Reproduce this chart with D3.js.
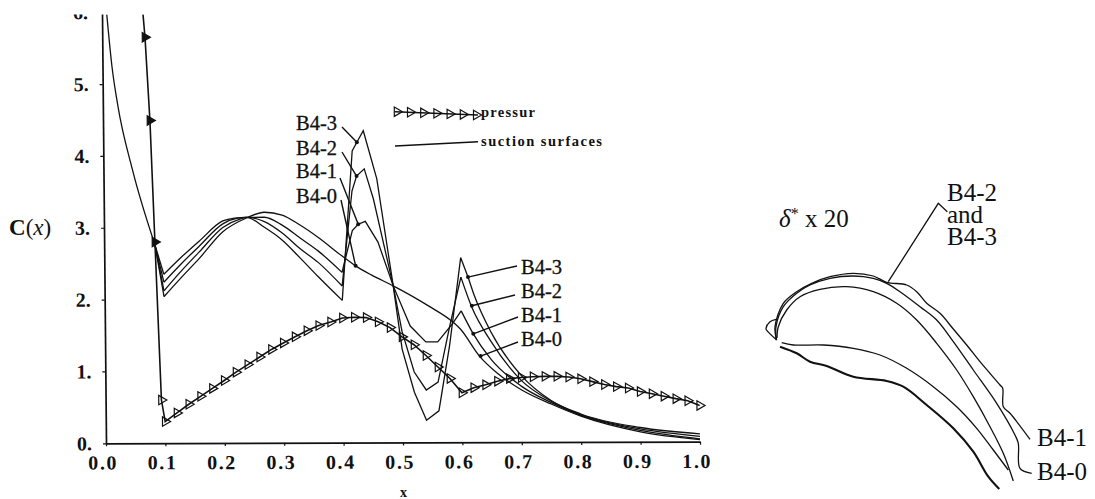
<!DOCTYPE html>
<html>
<head>
<meta charset="utf-8">
<script src="https://cdn.jsdelivr.net/npm/d3@7"></script>
<style>
body { margin: 0; background: #fff; }
svg { display: block; }
text { font-family: "Liberation Serif", serif; fill: #111; }
.label { stroke: #111; stroke-width: 0.3px; }
</style>
</head>
<body>
<svg id="chart" width="1095" height="499"></svg>
<script>
const xTicks = [0, 0.1, 0.2, 0.3, 0.4, 0.5, 0.6, 0.7, 0.8, 0.9, 1.0];
const yTicks = [0, 1, 2, 3, 4, 5, 6];

// leading edge is shared by all the suction curves
const leadEdge = [[0.008, 5.97], [0.016, 5.24], [0.025, 4.71], [0.049, 3.8], [0.0855, 2.76]];

const b40 = [[0.1, 2.04], [0.13, 2.31], [0.16, 2.57], [0.2, 2.94], [0.24, 3.13], [0.27, 3.21], [0.3, 3.17], [0.33, 3.03], [0.36, 2.86], [0.4, 2.6], [0.423, 2.46], [0.45, 2.33], [0.486, 2.18], [0.545, 1.9], [0.585, 1.68], [0.598, 1.58], [0.63, 1.2], [0.66, 0.96], [0.7, 0.73], [0.75, 0.53], [0.8, 0.36], [0.9, 0.14], [1.0, 0.03]];
const b41 = [[0.1, 2.12], [0.13, 2.4], [0.16, 2.66], [0.2, 3.0], [0.23, 3.12], [0.24, 3.14], [0.27, 3.14], [0.3, 3.03], [0.33, 2.85], [0.36, 2.67], [0.4, 2.37], [0.418, 2.95], [0.428, 3.04], [0.44, 3.08], [0.461, 2.79], [0.486, 2.18], [0.514, 1.62], [0.54, 1.4], [0.56, 1.4], [0.585, 1.65], [0.6, 1.83], [0.62, 1.51], [0.65, 1.15], [0.7, 0.78], [0.75, 0.55], [0.8, 0.37], [0.9, 0.16], [1.0, 0.04]];
const b42 = [[0.1, 2.24], [0.13, 2.5], [0.16, 2.74], [0.2, 3.05], [0.225, 3.13], [0.24, 3.14], [0.27, 3.08], [0.3, 2.92], [0.33, 2.7], [0.36, 2.51], [0.4, 2.18], [0.418, 3.5], [0.426, 3.71], [0.439, 3.81], [0.454, 3.39], [0.486, 2.18], [0.5, 1.55], [0.52, 0.98], [0.54, 0.73], [0.56, 0.84], [0.58, 1.6], [0.6, 2.3], [0.618, 1.88], [0.65, 1.4], [0.7, 0.86], [0.75, 0.57], [0.8, 0.38], [0.9, 0.18], [1.0, 0.075]];
const b43 = [[0.1, 2.35], [0.13, 2.59], [0.16, 2.81], [0.2, 3.09], [0.22, 3.13], [0.24, 3.14], [0.27, 3.0], [0.3, 2.82], [0.33, 2.57], [0.36, 2.31], [0.4, 1.98], [0.419, 4.06], [0.427, 4.18], [0.438, 4.34], [0.46, 3.67], [0.486, 2.18], [0.5, 1.3], [0.52, 0.7], [0.54, 0.31], [0.561, 0.44], [0.58, 1.35], [0.6, 2.57], [0.612, 2.3], [0.622, 2.05], [0.65, 1.53], [0.7, 0.93], [0.75, 0.58], [0.8, 0.39], [0.9, 0.2], [1.0, 0.11]];

const pressureLead = [[0.069, 5.97]];
const pressure = [[0.072, 5.65], [0.079, 4.49], [0.0855, 2.8], [0.094, 0.6], [0.1, 0.3], [0.12, 0.42], [0.14, 0.54], [0.16, 0.65], [0.18, 0.76], [0.2, 0.87], [0.22, 0.985], [0.24, 1.09], [0.26, 1.195], [0.28, 1.3], [0.3, 1.39], [0.32, 1.475], [0.34, 1.56], [0.36, 1.63], [0.38, 1.68], [0.4, 1.735], [0.42, 1.745], [0.44, 1.74], [0.46, 1.68], [0.48, 1.6], [0.5, 1.47], [0.52, 1.36], [0.54, 1.21], [0.56, 1.05], [0.58, 0.89], [0.6, 0.69], [0.62, 0.76], [0.64, 0.8], [0.66, 0.85], [0.68, 0.885], [0.7, 0.9], [0.72, 0.91], [0.74, 0.915], [0.76, 0.915], [0.78, 0.905], [0.8, 0.88], [0.82, 0.84], [0.84, 0.8], [0.86, 0.77], [0.88, 0.75], [0.9, 0.7], [0.92, 0.67], [0.94, 0.635], [0.96, 0.6], [0.98, 0.57], [1.0, 0.505]];

const leaderTips = [
  { name: "B4-3", left: [0.427, 4.18], right: [0.612, 2.3] },
  { name: "B4-2", left: [0.426, 3.71], right: [0.618, 1.9] },
  { name: "B4-1", left: [0.428, 3.04], right: [0.62, 1.51] },
  { name: "B4-0", left: [0.423, 2.46], right: [0.632, 1.2] }
];
const leftLabelEnds = [[342, 127], [342, 152], [340, 178], [341, 200]];
const rightLabelEnds = [[517, 266], [515, 295], [518, 317], [518, 342]];
const leftLabelBase = [130, 155, 178, 203];
const rightLabelBase = [274, 298, 322, 346];

// boundary layer sketch on the right
const bladeA = [[776.5, 340], [775, 326.7], [783.3, 303.3], [796.7, 291.7], [811.7, 283.3], [830, 276.7], [853.3, 273.3], [873.3, 276], [886.7, 282.3], [906.7, 285], [916.7, 291.7], [926.7, 303.3], [940, 313.3], [953.3, 329], [966.7, 345], [980, 361.7], [1000, 385], [1002.7, 388.3], [1003.3, 406.7], [1010, 413.3], [1030, 439.3]];
const bladeB = [[776.5, 340], [776, 326.7], [783.3, 306.7], [796.7, 293.3], [810, 285], [830, 278.3], [853.3, 276], [873.3, 278.3], [886.7, 283.3], [900, 291.7], [920, 306.7], [936.7, 320], [953.3, 341.7], [973.3, 370], [996.7, 403.3], [1015, 435], [1018.3, 443.3], [1020, 468.3], [1031.7, 473.3]];
const bladeC = [[777, 338], [778.3, 326.7], [786.7, 310], [800, 296.7], [820, 289.3], [846.7, 286.7], [873.3, 291.7], [896.7, 303.3], [916.7, 320], [936.7, 343.3], [956.7, 370], [973.3, 396.7], [990, 426.7], [1003.3, 453.3], [1013.3, 481]];
const bladeD = [[781.7, 342.7], [793.3, 345], [823.3, 345], [853.3, 348.3], [880, 355], [906.7, 368.3], [933.3, 386.7], [956.7, 406.7], [976.7, 428.3], [993.3, 450], [1008.3, 470]];
const bladeE = [[780, 346.7], [796.7, 353.3], [810, 361.7], [826.7, 366], [853.3, 376.7], [886.7, 381], [903.3, 386.7], [926.7, 405], [953.3, 428.3], [973.3, 451.7], [988.3, 476.7], [999.3, 489]];
const bladeNose = [[776, 319.3], [770, 321.7], [766, 328.3], [766.5, 330], [776.7, 340]];
const bladeLeader = [[888.3, 281.7], [938.3, 203.3], [947.3, 211.7]];

const svg = d3.select("#chart");
svg.append("defs").append("clipPath").attr("id", "page")
  .append("rect").attr("x", 0).attr("y", 14.5).attr("width", 1095).attr("height", 485);

const x = d3.scaleLinear().domain([0, 1]).range([0, 594]);
const y = d3.scaleLinear().domain([0, 6]).range([0, -431.1]);
const sketch = d3.scaleLinear().domain([0, 1095]).range([0, 1095]);

// the scan is slightly skewed so the plot group is too
const page = svg.append("g").attr("clip-path", "url(#page)");
const plot = page.append("g")
  .attr("transform", "translate(106,443.3) matrix(1,-0.0027,0.0093,1,0,0)");

const xAxis = d3.axisBottom(x).tickValues(xTicks).tickFormat(d3.format(".1f")).tickSize(3).tickPadding(9).tickSizeOuter(0);
const yAxis = d3.axisLeft(y).tickValues(yTicks).tickFormat(d => d + ".").tickSize(3).tickPadding(11).tickSizeOuter(0);

const gx = plot.append("g").call(xAxis);
const gy = plot.append("g").call(yAxis);
gy.selectAll("text").attr("dy", 6.5);
plot.selectAll(".domain").attr("stroke", "#111").attr("stroke-width", 1.7);
plot.selectAll(".tick line").attr("stroke", "#111").attr("stroke-width", 1.2);
plot.selectAll(".tick text")
  .style("font-family", "'Liberation Serif', serif")
  .style("font-weight", "bold").style("font-size", "20px").attr("fill", "#111");
gx.selectAll("text").attr("dx", -3.5).style("letter-spacing", "1.6px");

const line = d3.line().x(d => x(d[0])).y(d => y(d[1]));
const smooth = d3.line().x(d => x(d[0])).y(d => y(d[1])).curve(d3.curveMonotoneX);

function drawCurve(pts, gen, w) {
  plot.append("path").attr("d", gen(pts))
    .attr("fill", "none").attr("stroke", "#111").attr("stroke-width", w);
}

drawCurve(leadEdge, smooth, 1.3);
[b40, b41, b42, b43].forEach(function(s) {
  drawCurve([leadEdge[leadEdge.length - 1], s[0]], line, 1.3);
  if (s === b40) {
    // B4-0 has no spikes, it runs smooth the whole way
    drawCurve(s, smooth, 1.3);
  } else {
    drawCurve(s.filter(d => d[0] <= 0.4), smooth, 1.3);
    drawCurve(s.filter(d => d[0] >= 0.4 && d[0] <= 0.6), line, 1.3);
    drawCurve(s.filter(d => d[0] >= 0.6), smooth, 1.3);
  }
});

drawCurve(pressureLead.concat(pressure), line, 1.6);

const tri = d3.symbol().type(d3.symbolTriangle).size(38);
plot.selectAll(".mark")
  .data(pressure)
  .enter()
  .append("path")
  .attr("class", "mark")
  .attr("d", tri)
  .attr("transform", d => `translate(${x(d[0])},${y(d[1])}) rotate(90)`)
  .attr("fill", d => d[1] > 2 ? "#111" : "none")
  .attr("stroke", "#111")
  .attr("stroke-width", 1.2);

// leader lines and labels for the four cases
leaderTips.forEach(function(t, i) {
  const toScreen = p => [106 + x(p[0]) + 0.0093 * y(p[1]), 443.3 + y(p[1]) - 0.0027 * x(p[0])];
  const a = toScreen(t.left), b = toScreen(t.right);
  page.append("line")
    .attr("x1", sketch(leftLabelEnds[i][0])).attr("y1", sketch(leftLabelEnds[i][1]))
    .attr("x2", a[0]).attr("y2", a[1])
    .attr("stroke", "#111").attr("stroke-width", 1.4);
  page.append("circle").attr("cx", a[0]).attr("cy", a[1]).attr("r", 2).attr("fill", "#111");
  page.append("line")
    .attr("x1", sketch(rightLabelEnds[i][0])).attr("y1", sketch(rightLabelEnds[i][1]))
    .attr("x2", b[0]).attr("y2", b[1])
    .attr("stroke", "#111").attr("stroke-width", 1.4);
  page.append("circle").attr("cx", b[0]).attr("cy", b[1]).attr("r", 2).attr("fill", "#111");
  page.append("text").attr("class", "label").attr("x", 296).attr("y", leftLabelBase[i]).attr("font-size", 20.5).text(t.name);
  page.append("text").attr("class", "label").attr("x", 521).attr("y", rightLabelBase[i]).attr("font-size", 20.5).text(t.name);
});

// legend
const legendPress = d3.range(7).map(i => [395 + i * 13.2, 111.7 + i * 0.55]);
page.append("line").attr("x1", 395).attr("y1", 111.7).attr("x2", 478).attr("y2", 115)
  .attr("stroke", "#111").attr("stroke-width", 1.4);
page.selectAll(".legendmark").data(legendPress).enter().append("path")
  .attr("class", "legendmark").attr("d", tri)
  .attr("transform", d => `translate(${d[0] + 2},${d[1]}) rotate(90)`)
  .attr("fill", "none").attr("stroke", "#111").attr("stroke-width", 1.2);
page.append("line").attr("x1", 395).attr("y1", 146).attr("x2", 478).attr("y2", 141.7)
  .attr("stroke", "#111").attr("stroke-width", 1.4);
page.append("text").attr("x", 481).attr("y", 116.5).attr("font-size", 14.5).attr("font-weight", "bold")
  .attr("textLength", 54).text("pressur");
page.append("text").attr("x", 481).attr("y", 146).attr("font-size", 14.5).attr("font-weight", "bold")
  .attr("textLength", 121).text("suction surfaces");

// axis titles
const yTitle = page.append("text").attr("x", 9).attr("y", 235).attr("font-size", 23);
yTitle.append("tspan").attr("font-weight", "bold").text("C");
yTitle.append("tspan").text("(");
yTitle.append("tspan").attr("font-style", "italic").text("x");
yTitle.append("tspan").text(")");
page.append("text").attr("x", 400).attr("y", 497).attr("font-size", 14).attr("font-weight", "bold").text("x");

// boundary layer sketch
const bladeLine = d3.line().x(d => sketch(d[0])).y(d => sketch(d[1])).curve(d3.curveCatmullRom.alpha(0.5));
const straight = d3.line().x(d => sketch(d[0])).y(d => sketch(d[1]));
[bladeA, bladeB, bladeC, bladeD, bladeNose].forEach(function(s) {
  page.append("path").attr("d", bladeLine(s)).attr("fill", "none").attr("stroke", "#111").attr("stroke-width", 1.3);
});
page.append("path").attr("d", bladeLine(bladeE)).attr("fill", "none").attr("stroke", "#111").attr("stroke-width", 2.1);
page.append("path").attr("d", straight(bladeLeader)).attr("fill", "none").attr("stroke", "#111").attr("stroke-width", 1.3);

const delta = page.append("text").attr("x", 779).attr("y", 227).attr("font-size", 25);
delta.append("tspan").attr("font-style", "italic").text("δ");
delta.append("tspan").attr("font-size", 16).attr("dy", -8).text("*");
delta.append("tspan").attr("dy", 8).text(" x 20");

// one wrapped label, the lines sit tight like in the original
const stacked = page.append("text").attr("y", 200.5).attr("font-size", 25);
stacked.append("tspan").attr("x", 947).text("B4-2");
stacked.append("tspan").attr("x", 947).attr("dy", 22.5).text("and");
stacked.append("tspan").attr("x", 947).attr("dy", 22).text("B4-3");
page.append("text").attr("x", 1037).attr("y", 446).attr("font-size", 25).text("B4-1");
page.append("text").attr("x", 1037).attr("y", 480).attr("font-size", 25).text("B4-0");
</script>
</body>
</html>
